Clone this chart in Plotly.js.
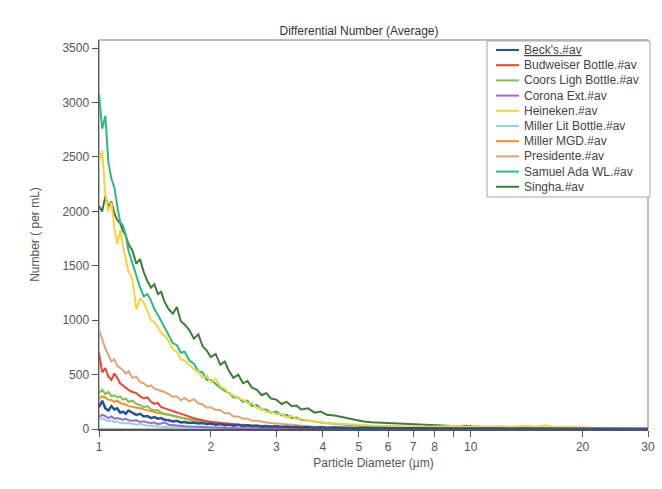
<!DOCTYPE html>
<html><head><meta charset="utf-8">
<script src="https://cdn.plot.ly/plotly-3.0.1.min.js"></script>
<style>html,body{margin:0;padding:0;background:#fff}</style>
</head><body><div id="chart" style="width:662px;height:489px"></div>
<script>
// Particle diameter (µm)
const diameter = [1.00,1.02,1.04,1.06,1.08,1.10,1.12,1.14,1.16,1.18,1.20,
  1.23,1.26,1.29,1.32,1.35,1.38,1.41,1.44,1.47,1.50,
  1.54,1.58,1.62,1.66,1.70,
  1.75,1.80,1.85,1.90,1.95,2.00,
  2.06,2.12,2.18,2.24,2.30,
  2.37,2.44,2.51,2.58,
  2.66,2.74,2.82,2.90,
  3.0,3.1,3.2,3.3,3.4,3.5,
  3.65,3.8,3.95,
  4.1,4.3,4.5,4.7,4.9,
  5.15,5.4,5.7,
  6.0,6.3,6.6,
  7.0,7.4,7.8,8.2,
  8.7,9.2,9.7,
  10.3,11,12,13,14,15,16,17,18,
  20,22,24,26,28,30];

const becks = [200,260,190,170,210,180,190,150,160,140,170,
  150,130,140,115,120,100,110,95,100,85,
  80,70,75,60,65,
  55,60,50,55,45,50,
  40,45,35,40,30,
  38,28,35,25,
  30,22,28,20,
  25,18,22,16,20,14,
  18,12,16,
  10,14,10,12,8,
  10,8,9,
  7,8,6,
  7,5,6,5,
  5,4,5,
  4,3,4,3,3,4,3,3,3,
  3,2,3,2,2,2];

const budweiser = [700,520,560,480,450,510,470,420,400,380,360,
  340,330,300,280,290,250,230,240,200,190,
  175,160,150,140,125,
  110,100,90,80,70,65,
  60,55,48,45,40,
  38,35,30,28,
  25,22,20,18,
  15,14,12,10,10,8,
  7,6,6,
  5,5,4,4,3,
  3,3,2,
  2,2,2,
  1,1,1,1,
  1,1,1,
  0,0,0,0,0,0,0,0,0,
  0,0,0,0,0,0];

const coors = [330,360,320,340,300,310,290,300,270,280,250,
  260,230,220,200,210,180,170,175,150,140,
  130,120,115,100,95,
  85,80,70,65,60,55,
  50,45,45,40,38,
  35,32,30,28,
  26,24,22,20,
  18,17,15,14,12,11,
  10,9,8,
  7,6,6,5,5,
  4,4,3,
  3,2,2,
  2,2,1,1,
  1,1,1,
  1,0,0,0,0,0,0,0,0,
  0,0,0,0,0,0];

const corona = [110,130,120,100,115,95,100,90,85,95,80,
  75,80,65,70,60,55,60,45,50,60,
  40,35,30,28,25,
  22,20,18,15,14,12,
  10,10,8,8,7,
  6,6,5,5,
  4,4,3,3,
  3,3,2,2,2,2,
  1,1,1,
  1,1,1,1,1,
  0,0,0,
  0,0,0,
  0,0,0,0,
  0,0,0,
  0,0,0,0,0,0,0,0,0,
  0,0,0,0,0,0];

const heineken = [2450,2560,2150,2000,2080,1850,1700,1830,1680,1560,1450,
  1380,1100,1200,1160,1080,1000,980,940,880,860,
  810,730,710,640,630,
  590,550,530,470,490,430,
  460,390,370,320,310,
  280,270,240,240,
  190,190,155,160,
  135,140,105,120,90,95,
  75,70,60,
  55,50,45,42,40,
  35,32,30,
  28,25,25,
  22,25,20,22,
  25,30,20,
  25,20,25,20,30,20,35,15,20,
  15,5,3,2,1,0];

const millerLite = [80,100,85,70,80,65,70,55,60,50,55,
  45,40,45,35,30,32,25,22,20,18,
  15,14,12,10,9,
  8,7,6,6,5,5,
  4,4,3,3,3,
  2,2,2,2,
  1,1,1,1,
  1,1,1,1,1,0,
  0,0,0,
  0,0,0,0,0,
  0,0,0,
  0,0,0,
  0,0,0,0,
  0,0,0,
  0,0,0,0,0,0,0,0,0,
  0,0,0,0,0,0];

const millerMGD = [280,300,290,270,265,250,260,240,230,225,210,
  205,200,190,180,170,165,155,150,140,135,
  130,120,115,105,100,
  95,88,80,75,70,65,
  60,55,50,48,45,
  42,40,36,34,
  32,30,28,26,
  24,22,20,18,17,16,
  14,13,12,
  11,10,9,8,8,
  7,6,6,
  5,5,4,
  4,3,3,3,
  2,2,2,
  2,1,1,1,1,1,1,1,0,
  0,0,0,0,0,0];

const presidente = [910,820,740,680,620,640,580,560,540,510,530,
  470,480,430,420,390,400,370,360,350,340,
  320,295,300,265,285,
  255,275,235,225,195,200,
  175,175,145,145,115,
  115,95,95,75,
  75,65,60,55,
  50,45,40,35,30,28,
  25,22,20,
  18,15,12,10,10,
  8,7,6,
  5,5,4,
  4,3,3,2,
  2,2,2,
  1,1,1,1,1,0,0,0,0,
  0,0,0,0,0,0];

const samuelAdams = [3080,2760,2880,2450,2300,2220,2050,1900,1870,1780,1640,
  1520,1400,1300,1220,1240,1180,1100,1050,990,940,
  850,790,770,700,710,
  630,600,530,520,450,450,
  410,380,350,330,290,
  290,250,260,210,
  220,180,180,150,
  160,125,130,100,105,85,
  80,70,60,
  55,45,40,35,30,
  25,22,18,
  15,12,10,
  8,7,6,5,
  5,4,4,
  3,3,2,2,2,1,1,1,1,
  1,0,0,0,0,0];

const singha = [2050,2000,2140,2040,2090,1980,1920,1890,1820,1780,1700,
  1640,1520,1560,1440,1360,1300,1330,1240,1260,1170,
  1100,1060,1120,990,960,
  910,830,870,760,720,660,
  690,590,620,530,470,
  500,420,440,380,
  360,310,330,280,
  270,230,250,210,215,180,
  190,150,160,
  130,125,110,95,80,
  68,62,58,
  55,48,45,
  42,38,35,30,
  28,25,30,
  20,15,12,10,8,6,5,4,4,
  3,2,2,1,1,0];

const seriesNames = ["Beck's.#av","Budweiser Bottle.#av","Coors Ligh Bottle.#av","Corona Ext.#av",
  "Heineken.#av","Miller Lit Bottle.#av","Miller MGD.#av","Presidente.#av","Samuel Ada WL.#av","Singha.#av"];
const seriesValues = [becks,budweiser,coors,corona,heineken,millerLite,millerMGD,presidente,samuelAdams,singha];
const seriesColors = ['#2250a3','#ee4526','#7cc24a','#9b6dc6','#f9d33c','#95d3df','#f58c33','#dfa477','#2db985','#3b7f36'];

const xTicks = [1,2,3,4,5,6,7,8,9,10,20,30];
const xTickText = ['1','2','3','4','5','6','7','8','','10','20','30'];
const yTicks = [0,500,1000,1500,2000,2500,3000,3500];

const traces = seriesNames.map((n,i)=>({
  x: diameter, y: seriesValues[i], type:'scatter', mode:'lines', name:n,
  line:{color:seriesColors[i], width: i===0 ? 2.5 : 2}, showlegend:false
})).reverse();

// geometry helpers (pixel -> paper)
const ML=99, MT=40, PW=549, PH=389;
const px = p => (p-ML)/PW;
const py = p => 1-(p-MT)/PH;

const shapes = [
  {type:'rect', xref:'paper', yref:'paper', x0:0, x1:1, y0:0, y1:1, line:{color:'#a8a8a8', width:1.5}, layer:'below'},
  {type:'rect', xref:'paper', yref:'paper', x0:px(487), x1:px(650), y0:py(197), y1:py(41), line:{color:'#a8a8a8', width:1}, fillcolor:'#ffffff', layer:'above'}
];
const annotations = [];
seriesNames.forEach((n,i)=>{
  const yy = 50 + i*15.2;
  shapes.push({type:'line', xref:'paper', yref:'paper', x0:px(496), x1:px(519), y0:py(yy), y1:py(yy), line:{color:seriesColors[i], width:2}, layer:'above'});
  annotations.push({xref:'paper', yref:'paper', x:px(522), y:py(yy), xanchor:'left', yanchor:'middle', showarrow:false,
    text: i===0 ? '<span style="text-decoration:underline">'+n+'</span>' : n,
    font:{family:'Liberation Sans, Arial, sans-serif', size:12, color:'#444'}});
});

const layout = {
  width:662, height:489,
  margin:{l:ML, r:662-ML-PW, t:MT, b:489-MT-PH},
  paper_bgcolor:'#ffffff', plot_bgcolor:'#ffffff',
  font:{family:'Liberation Sans, Arial, sans-serif', size:12, color:'#555'},
  title:{text:'Differential Number (Average)', x:359/662, xref:'container', y:1-31/489, yref:'container',
    xanchor:'center', yanchor:'middle', font:{size:12, color:'#333'}},
  xaxis:{type:'log', range:[0, Math.log10(30)], tickvals:xTicks, ticktext:xTickText,
    ticks:'outside', ticklen:6, tickcolor:'#555', showline:true, linecolor:'#555', linewidth:1.5,
    showgrid:false, zeroline:false,
    title:{text:'Particle Diameter (µm)', standoff:5, font:{size:12, color:'#555'}}},
  yaxis:{range:[0, 3575], tickvals:yTicks, ticks:'outside', ticklen:6, tickcolor:'#555',
    showline:true, linecolor:'#555', linewidth:1.5, showgrid:false, zeroline:false,
    title:{text:'Number ( per mL)', standoff:20, font:{size:12, color:'#555'}}},
  shapes: shapes, annotations: annotations, showlegend:false
};
Plotly.newPlot('chart', traces, layout, {displayModeBar:false, staticPlot:true});
</script></body></html>
